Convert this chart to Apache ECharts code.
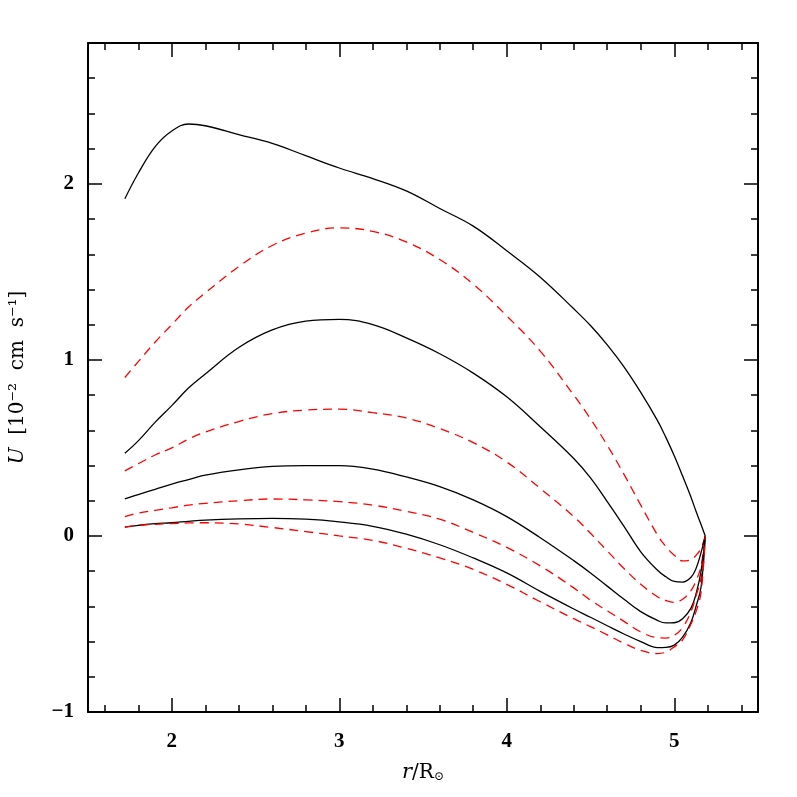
<!DOCTYPE html>
<html>
<head>
<meta charset="utf-8">
<script src="https://cdn.jsdelivr.net/npm/echarts@6/dist/echarts.min.js"></script>
<style>html,body{margin:0;padding:0;background:#fff}#c{width:797px;height:797px}</style>
</head>
<body>
<div id="c"></div>
<script>
// radius grid (r / R_sun)
const rValues = [1.72, 1.8, 1.9, 2.0, 2.1, 2.2, 2.4, 2.6, 2.8, 3.0, 3.2, 3.4, 3.6, 3.8, 4.0, 4.2, 4.4, 4.5, 4.6, 4.7, 4.8, 4.9, 4.95, 5.0, 5.05, 5.1, 5.13, 5.16, 5.185];
// solid (black) curves
const solid1 = [1.915, 2.06, 2.21, 2.30, 2.34, 2.33, 2.28, 2.23, 2.16, 2.09, 2.03, 1.96, 1.86, 1.76, 1.62, 1.47, 1.29, 1.195, 1.085, 0.96, 0.815, 0.655, 0.56, 0.455, 0.34, 0.22, 0.14, 0.065, 0.0];
const solid2 = [0.47, 0.54, 0.645, 0.74, 0.84, 0.92, 1.07, 1.17, 1.22, 1.23, 1.20, 1.125, 1.035, 0.925, 0.79, 0.62, 0.44, 0.33, 0.195, 0.055, -0.09, -0.195, -0.232, -0.258, -0.262, -0.235, -0.185, -0.095, 0.0];
const solid3 = [0.21, 0.235, 0.265, 0.295, 0.32, 0.345, 0.375, 0.395, 0.40, 0.40, 0.38, 0.335, 0.28, 0.205, 0.11, -0.01, -0.14, -0.21, -0.285, -0.36, -0.43, -0.48, -0.494, -0.493, -0.47, -0.41, -0.33, -0.20, 0.0];
const solid4 = [0.05, 0.06, 0.07, 0.075, 0.083, 0.09, 0.097, 0.10, 0.095, 0.08, 0.055, 0.01, -0.05, -0.125, -0.21, -0.315, -0.415, -0.462, -0.51, -0.557, -0.60, -0.634, -0.633, -0.62, -0.575, -0.49, -0.40, -0.29, 0.0];
// dashed (red) curves
const dashed1 = [0.90, 0.99, 1.10, 1.20, 1.30, 1.38, 1.53, 1.65, 1.72, 1.75, 1.73, 1.67, 1.57, 1.43, 1.25, 1.05, 0.80, 0.665, 0.515, 0.35, 0.175, 0.005, -0.06, -0.11, -0.142, -0.135, -0.11, -0.07, 0.0];
const dashed2 = [0.37, 0.41, 0.46, 0.50, 0.55, 0.59, 0.65, 0.695, 0.715, 0.72, 0.70, 0.67, 0.61, 0.53, 0.42, 0.27, 0.11, 0.015, -0.085, -0.185, -0.275, -0.345, -0.367, -0.377, -0.36, -0.31, -0.255, -0.17, 0.0];
const dashed3 = [0.11, 0.13, 0.145, 0.16, 0.175, 0.185, 0.20, 0.21, 0.205, 0.195, 0.175, 0.14, 0.095, 0.02, -0.065, -0.17, -0.295, -0.365, -0.425, -0.485, -0.545, -0.578, -0.58, -0.565, -0.52, -0.43, -0.34, -0.24, 0.0];
const dashed4 = [0.05, 0.06, 0.066, 0.07, 0.074, 0.075, 0.068, 0.048, 0.025, 0.0, -0.025, -0.07, -0.125, -0.19, -0.275, -0.374, -0.47, -0.515, -0.562, -0.61, -0.65, -0.668, -0.66, -0.63, -0.59, -0.50, -0.43, -0.32, 0.0];
// ticks
const xMajorTicks = [2, 3, 4, 5];
const xMinorTicks = [1.6, 1.8, 2.2, 2.4, 2.6, 2.8, 3.2, 3.4, 3.6, 3.8, 4.2, 4.4, 4.6, 4.8, 5.2, 5.4];
const yMajorTicks = [-1, 0, 1, 2];
const yMinorTicks = [-0.8, -0.6, -0.4, -0.2, 0.2, 0.4, 0.6, 0.8, 1.2, 1.4, 1.6, 1.8, 2.2, 2.4, 2.6];

const X_MIN = 1.5, X_MAX = 5.5, Y_MIN = -1, Y_MAX = 2.8;
const labelFont = {fontFamily: 'Liberation Serif', fontWeight: 'bold', fontSize: 21, color: '#000'};

function pairs(ys) { return rValues.map((x, i) => [x, ys[i]]); }

function mkX(pos, ticks, len, showLine, showLabel, extra) {
  return Object.assign({
    type: 'value', min: X_MIN, max: X_MAX, position: pos,
    axisLine: {show: showLine, onZero: false, lineStyle: {color: '#000', width: 2}},
    axisTick: {show: true, inside: true, length: len, customValues: ticks, lineStyle: {color: '#000', width: 1.5}},
    axisLabel: showLabel ? Object.assign({show: true, customValues: ticks, margin: 19}, labelFont) : {show: false},
    splitLine: {show: false}
  }, extra || {});
}
function mkY(pos, ticks, len, showLine, showLabel, extra) {
  return Object.assign({
    type: 'value', min: Y_MIN, max: Y_MAX, position: pos,
    axisLine: {show: showLine, onZero: false, lineStyle: {color: '#000', width: 2}},
    axisTick: {show: true, inside: true, length: len, customValues: ticks, lineStyle: {color: '#000', width: 1.5}},
    axisLabel: showLabel ? Object.assign({show: true, customValues: ticks, margin: 14,
      formatter: v => (v < 0 ? '\u2212' + Math.abs(v) : String(v))}, labelFont) : {show: false},
    splitLine: {show: false}
  }, extra || {});
}

const solidStyle = {color: '#000', width: 1.3, type: 'solid'};
const dashedStyle = {color: '#ff0000', width: 1.3, type: [9, 6]};
function line(ys, style) {
  return {type: 'line', xAxisIndex: 0, yAxisIndex: 0, data: pairs(ys), showSymbol: false, symbol: 'none',
    smooth: 0.4, lineStyle: style, silent: true, animation: false};
}

const chart = echarts.init(document.getElementById('c'), null, {renderer: 'canvas'});
chart.setOption({
  backgroundColor: '#fff',
  animation: false,
  grid: {left: 87, right: 39, top: 43, bottom: 85, containLabel: false},
  xAxis: [
    mkX('bottom', xMajorTicks, 14, true, true, {
      name: '{i|r}/R{s|⊙}', nameLocation: 'middle', nameGap: 50,
      nameTextStyle: {fontFamily: 'DejaVu Serif', fontSize: 20, color: '#000',
        rich: {i: {fontFamily: 'DejaVu Serif', fontStyle: 'italic', fontSize: 21},
               s: {fontFamily: 'DejaVu Serif', fontSize: 12, padding: [8, 0, 0, 0]}}}
    }),
    mkX('bottom', xMinorTicks, 7, false, false),
    mkX('top', xMajorTicks, 14, true, false),
    mkX('top', xMinorTicks, 7, false, false)
  ],
  yAxis: [
    mkY('left', yMajorTicks, 14, true, true, {
      name: '{i|U}  [10⁻²  cm  s⁻¹]', nameLocation: 'middle', nameGap: 60, nameRotate: 90,
      nameTextStyle: {fontFamily: 'DejaVu Serif', fontSize: 20, color: '#000',
        rich: {i: {fontFamily: 'DejaVu Serif', fontStyle: 'italic', fontSize: 20}}}
    }),
    mkY('left', yMinorTicks, 7, false, false),
    mkY('right', yMajorTicks, 14, true, false),
    mkY('right', yMinorTicks, 7, false, false)
  ],
  series: [
    line(solid1, solidStyle),
    line(dashed1, dashedStyle),
    line(solid2, solidStyle),
    line(dashed2, dashedStyle),
    line(solid3, solidStyle),
    line(dashed3, dashedStyle),
    line(solid4, solidStyle),
    line(dashed4, dashedStyle)
  ]
});
</script>
</body>
</html>
